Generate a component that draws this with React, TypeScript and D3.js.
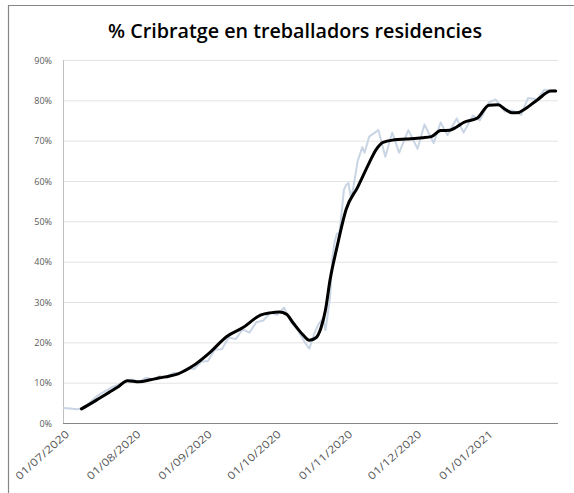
import React from "react";
import * as d3 from "d3";

const title = "% Cribratge en treballadors residencies";
const yTicks = [0, 10, 20, 30, 40, 50, 60, 70, 80, 90];
const xTickLabels = ["01/07/2020", "01/08/2020", "01/09/2020", "01/10/2020", "01/11/2020", "01/12/2020", "01/01/2021"];

// Daily values (light line): day offset from 01/07/2020, value in %
const dailyDays = [0, 3, 6, 8, 12, 15, 18, 21, 24, 27, 30, 33, 36, 39, 42, 45, 48, 51, 54, 57, 60, 63, 66, 69, 72, 75, 78, 81, 84, 87, 90, 93, 96, 99, 102, 105, 107, 109, 111, 113, 114, 116, 117, 118, 119, 120, 121, 122, 123, 124, 125, 126, 128, 130, 131, 133, 137, 140, 143, 146, 150, 154, 157, 161, 164, 167, 171, 174, 178, 181, 185, 188, 192, 195, 199, 202, 206, 209, 212, 214];
const dailyValues = [3.7, 3.6, 3.4, 3.6, 5.2, 6.8, 7.8, 8.8, 9.5, 10.4, 10.8, 10.2, 11.2, 10.8, 11.6, 11.4, 12.4, 12.4, 13.6, 13.4, 15.2, 15.4, 18.2, 18.3, 21.2, 20.8, 23.2, 22.4, 25, 25.4, 27.4, 26.8, 28.6, 25, 23, 20, 18.4, 22, 24.5, 26, 23, 31, 41, 45, 47, 47, 52, 57.8, 59, 59.5, 56, 58, 65, 68.4, 67, 71, 72.6, 66, 72, 67, 72.6, 68, 74, 69.4, 74.5, 71.4, 75.5, 72, 76.2, 75, 79.5, 80.2, 77.2, 77.5, 76.4, 80.6, 80.2, 82.6, 82.4, 82.6];

// 7-day average (black line)
const avgDays = [8, 12, 16, 20, 24, 28, 33, 38, 42, 46, 50, 56, 64, 71, 78, 86, 90, 94, 97, 100, 104, 107, 110, 112, 114, 116, 119, 123, 128, 133, 136, 139, 144, 149, 156, 160, 164, 168, 171, 174, 180, 185, 189, 192, 195, 198, 200, 206, 212, 214];
const avgValues = [3.5, 4.8, 6.2, 7.6, 9.0, 10.5, 10.2, 10.7, 11.2, 11.6, 12.2, 14, 17.6, 21.4, 23.6, 26.8, 27.3, 27.5, 27, 24.8, 22, 20.5, 21.2, 23.5, 28, 35.5, 43.6, 53, 58.5, 64.5, 67.8, 69.6, 70.2, 70.4, 70.7, 71, 72.5, 72.6, 73.4, 74.5, 75.6, 78.8, 78.9, 77.8, 76.9, 77, 77.6, 80.1, 82.3, 82.3];

const W = 574;
const H = 493;
const plot = { left: 63, right: 558, top: 60, bottom: 423 };
const start = new Date(2020, 6, 1);
const end = new Date(2021, 1, 1);

export default function App() {
  const x = d3.scaleTime().domain([start, end]).range([plot.left, plot.right]);
  const y = d3.scaleLinear().domain([0, 90]).range([plot.bottom, plot.top]);
  const dayToDate = (d: number) => d3.timeDay.offset(start, d);

  const dailyLine = d3
    .line<number>()
    .x((_, i) => x(dayToDate(dailyDays[i])))
    .y((v) => y(v))
    .curve(d3.curveLinear);
  const avgLine = d3
    .line<number>()
    .x((_, i) => x(dayToDate(avgDays[i])))
    .y((v) => y(v))
    .curve(d3.curveMonotoneX);

  const parse = d3.timeParse("%d/%m/%Y");

  return (
    <svg width={W} height={H} style={{ position: "absolute", left: 0, top: 0, background: "#fff" }}>
      <rect x={0} y={0} width={W} height={H} fill="#fff" />
      <path d={`M8.5,${H} V5.5 H${W}`} fill="none" stroke="#868686" strokeWidth={1.2} />
      <text
        x={295}
        y={38}
        textAnchor="middle"
        fontFamily="'Open Sans', 'DejaVu Sans', sans-serif"
        fontWeight={600}
        fontSize={19}
        fill="#000"
        textLength={374}
        lengthAdjust="spacingAndGlyphs"
      >
        {title}
      </text>
      {yTicks.map((t) => (
        <g key={t}>
          {t > 0 && (
            <line x1={plot.left} x2={plot.right} y1={y(t) + 0.5} y2={y(t) + 0.5} stroke="#e3e3e3" strokeWidth={1} />
          )}
          <text
            x={52}
            y={y(t) + 3.5}
            textAnchor="end"
            fontFamily="'Open Sans', 'DejaVu Sans', sans-serif"
            fontSize={9}
            fill="#595959"
          >
            {t}%
          </text>
        </g>
      ))}
      <line x1={plot.left + 0.5} x2={plot.left + 0.5} y1={plot.top} y2={plot.bottom} stroke="#bfbfbf" strokeWidth={1} />
      <line x1={plot.left} x2={plot.right} y1={plot.bottom + 0.5} y2={plot.bottom + 0.5} stroke="#868686" strokeWidth={1} />
      <path d={dailyLine(dailyValues) || ""} fill="none" stroke="#c9d5e4" strokeWidth={2} strokeLinejoin="round" />
      <path d={avgLine(avgValues) || ""} fill="none" stroke="#000" strokeWidth={3} strokeLinejoin="round" strokeLinecap="round" />
      {xTickLabels.map((lab) => {
        const px = x(parse(lab) as Date);
        return (
          <text
            key={lab}
            transform={`translate(${px + 7},${plot.bottom + 12}) rotate(-42)`}
            textAnchor="end"
            fontFamily="'Open Sans', 'DejaVu Sans', sans-serif"
            fontSize={10.5}
            fill="#595959"
            textLength={68}
            lengthAdjust="spacingAndGlyphs"
          >
            {lab}
          </text>
        );
      })}
    </svg>
  );
}
